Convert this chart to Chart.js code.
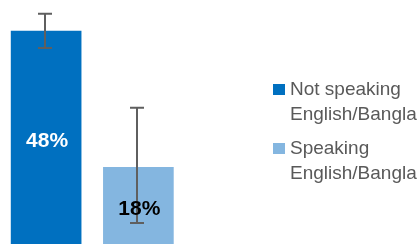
<!DOCTYPE html>
<html>
<head>
<meta charset="utf-8">
<script src="https://cdn.jsdelivr.net/npm/chart.js@4/dist/chart.umd.min.js"></script>
<style>
    html, body { margin: 0; padding: 0; background: #ffffff; }
    #wrap { width: 419px; height: 244px; position: relative; overflow: hidden; }
</style>
</head>
<body>
<div id="wrap"><canvas id="shareChart" width="419" height="244"></canvas></div>
<script>
// values
const categories = ["Not speaking English/Bangla", "Speaking English/Bangla"];
const legendLines = [["Not speaking", "English/Bangla"], ["Speaking", "English/Bangla"]];
const shares = [48, 18];
const errLow = [44.3, 5.7];
const errHigh = [51.8, 31.1];
const valueLabels = ["48%", "18%"];

const barColors = ["#0070C0", "#84B6E0"];
const labelColors = ["#ffffff", "#000000"];
const FONT = "'Liberation Sans', Arial, sans-serif";

const errorBars = {
    id: "errorBars",
    afterDatasetsDraw(chart) {
        const ctx = chart.ctx;
        const y = chart.scales.y;
        const meta = chart.getDatasetMeta(0);
        const zero = y.getPixelForValue(0); // baseline sits just below the canvas
        ctx.save();
        ctx.strokeStyle = "#5f5f5f";
        ctx.lineWidth = 2;
        meta.data.forEach((bar, i) => {
            const x = Math.round(bar.x) - 1;
            const top = y.getPixelForValue(errHigh[i]);
            const bottom = y.getPixelForValue(errLow[i]);
            ctx.beginPath();
            ctx.moveTo(x, top);
            ctx.lineTo(x, bottom);
            ctx.moveTo(x - 7, top);
            ctx.lineTo(x + 7, top);
            ctx.moveTo(x - 7, bottom);
            ctx.lineTo(x + 7, bottom);
            ctx.stroke();
        });
        // value labels in the middle of each bar
        ctx.font = "bold 21px " + FONT;
        ctx.textAlign = "center";
        ctx.textBaseline = "middle";
        meta.data.forEach((bar, i) => {
            ctx.fillStyle = labelColors[i];
            ctx.fillText(valueLabels[i], bar.x + 1, (bar.y + zero) / 2 + 1);
        });
        ctx.restore();
    }
};

const sideLegend = {
    id: "sideLegend",
    afterDraw(chart) {
        const ctx = chart.ctx;
        const tops = [84, 143];
        ctx.save();
        ctx.font = "19px " + FONT;
        ctx.textAlign = "left";
        ctx.textBaseline = "alphabetic";
        legendLines.forEach((lines, i) => {
            ctx.fillStyle = barColors[i];
            ctx.fillRect(273, tops[i], 12, 11);
            ctx.fillStyle = "#595959";
            lines.forEach((line, j) => {
                ctx.fillText(line, 290, tops[i] + 11 + j * 25);
            });
        });
        ctx.restore();
    }
};

new Chart(document.getElementById("shareChart").getContext("2d"), {
    type: "bar",
    data: {
        labels: categories,
        datasets: [{
            data: shares,
            backgroundColor: barColors,
            borderWidth: 0,
            barThickness: 70
        }]
    },
    options: {
        responsive: false,
        animation: false,
        layout: { padding: { left: -1.5, right: 234.5, top: 0, bottom: 0 } },
        scales: {
            x: { display: false, offset: true, grid: { display: false } },
            y: { display: false, min: 1.1, max: 54.85, grid: { display: false } }
        },
        plugins: {
            legend: { display: false },
            tooltip: { enabled: false }
        }
    },
    plugins: [errorBars, sideLegend]
});
</script>
</body>
</html>
